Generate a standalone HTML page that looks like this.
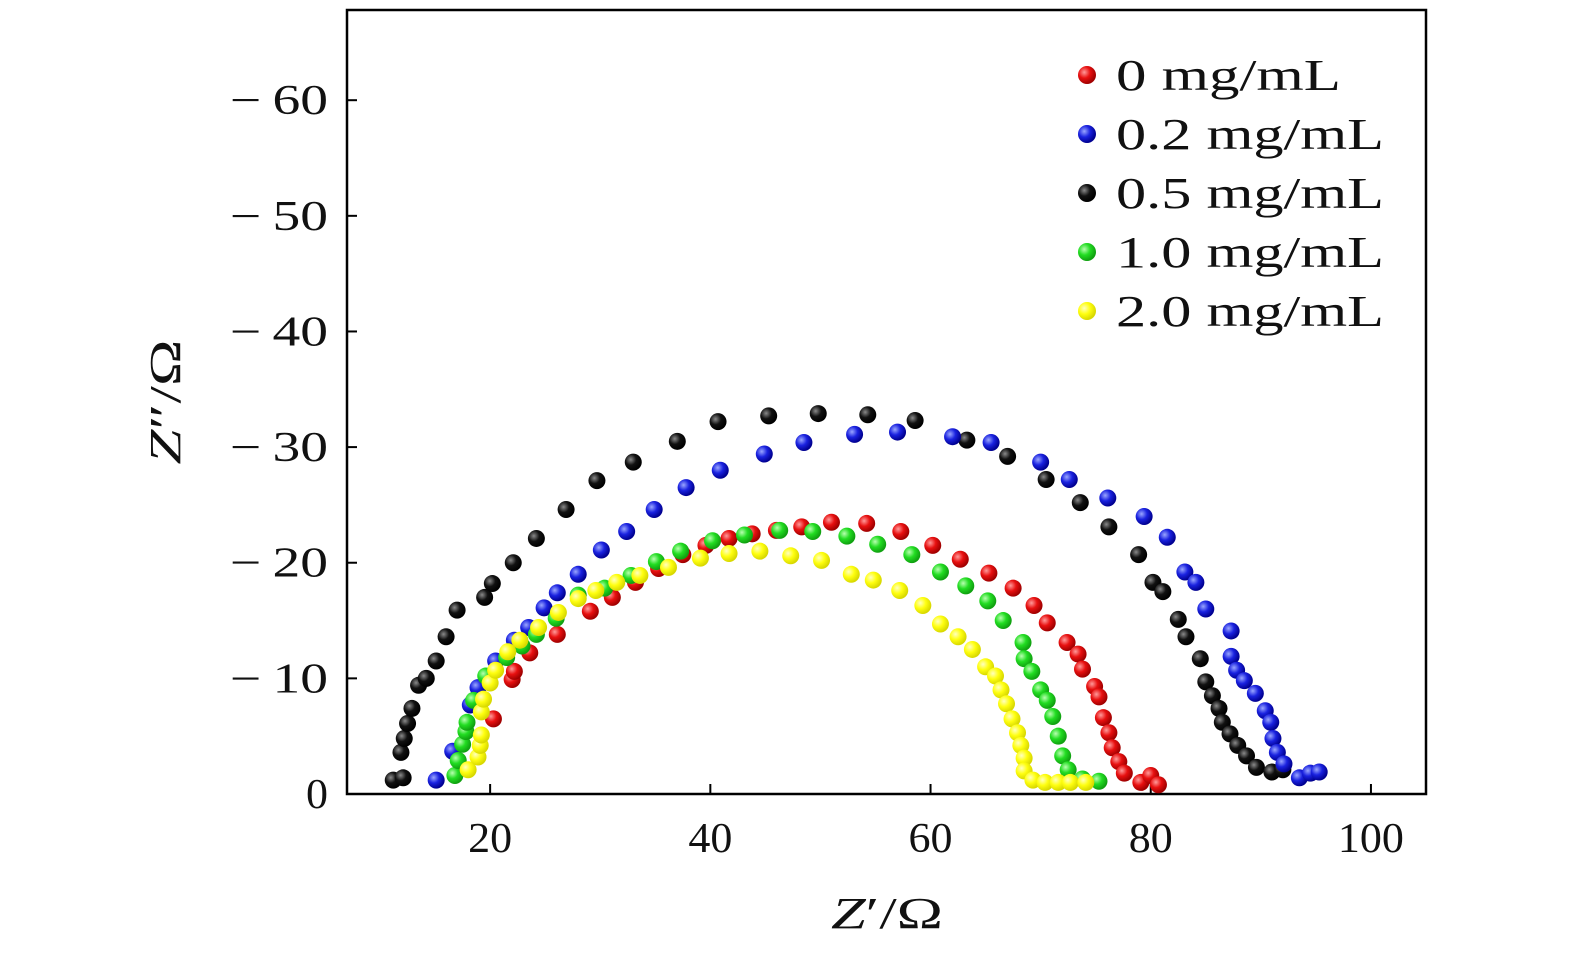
<!DOCTYPE html>
<html><head><meta charset="utf-8">
<style>
html,body{margin:0;padding:0;background:#fff;}
svg{display:block;}
text{font-family:"Liberation Serif","DejaVu Serif",serif;fill:#111;}
</style></head>
<body>
<svg id="chart" width="1575" height="955" viewBox="0 0 1575 955">
<defs>
<radialGradient id="g-red" cx="35%" cy="35%" r="65%"><stop offset="0" stop-color="#ff9a9a"/><stop offset="0.5" stop-color="#e81010"/><stop offset="1" stop-color="#a00000"/></radialGradient>
<radialGradient id="g-blue" cx="35%" cy="35%" r="65%"><stop offset="0" stop-color="#9aa6ff"/><stop offset="0.5" stop-color="#1a22e0"/><stop offset="1" stop-color="#000090"/></radialGradient>
<radialGradient id="g-black" cx="35%" cy="35%" r="65%"><stop offset="0" stop-color="#8a8a8a"/><stop offset="0.5" stop-color="#111"/><stop offset="1" stop-color="#000"/></radialGradient>
<radialGradient id="g-green" cx="35%" cy="35%" r="65%"><stop offset="0" stop-color="#b8ffb0"/><stop offset="0.5" stop-color="#22dd22"/><stop offset="1" stop-color="#10a010"/></radialGradient>
<radialGradient id="g-yellow" cx="35%" cy="35%" r="65%"><stop offset="0" stop-color="#ffffc0"/><stop offset="0.5" stop-color="#ffff10"/><stop offset="1" stop-color="#d8d800"/></radialGradient>
</defs>
<g id="plot"></g>
</svg>
<script>
const xTicks=[20,40,60,80,100];
const yTicks=[0,10,20,30,40,50,60];
const yTickLabels=["0","\u221210","\u221220","\u221230","\u221240","\u221250","\u221260"];
const seriesNames=["0 mg/mL","0.2 mg/mL","0.5 mg/mL","1.0 mg/mL","2.0 mg/mL"];
const redX=[20.3,22.0,22.2,23.6,26.1,29.1,31.1,33.2,35.3,37.5,39.6,41.7,43.8,46.0,48.3,51.0,54.2,57.3,60.2,62.7,65.3,67.5,69.4,70.6,72.4,73.4,73.8,74.9,75.3,75.7,76.2,76.5,77.1,77.6,79.1,80.0,80.7];
const redY=[6.5,9.9,10.6,12.2,13.8,15.8,17.0,18.3,19.5,20.7,21.5,22.1,22.5,22.8,23.1,23.5,23.4,22.7,21.5,20.3,19.1,17.8,16.3,14.8,13.1,12.1,10.8,9.3,8.4,6.6,5.3,4.0,2.8,1.8,1.0,1.6,0.8];
const blueX=[15.1,16.6,18.2,18.9,20.5,22.2,23.5,24.9,26.1,28.0,30.1,32.4,34.9,37.8,40.9,44.9,48.5,53.1,57.0,62.0,65.5,70.0,72.6,76.1,79.4,81.5,83.1,84.1,85.0,87.3,87.3,87.8,88.5,89.5,90.4,90.9,91.1,91.5,92.1,93.5,94.5,95.3];
const blueY=[1.2,3.7,7.7,9.2,11.5,13.3,14.4,16.1,17.4,19.0,21.1,22.7,24.6,26.5,28.0,29.4,30.4,31.1,31.3,30.9,30.4,28.7,27.2,25.6,24.0,22.2,19.2,18.3,16.0,14.1,11.9,10.7,9.8,8.7,7.2,6.2,4.8,3.6,2.6,1.4,1.8,1.9];
const blackX=[11.2,12.1,11.9,12.2,12.5,12.9,13.5,14.2,15.1,16.0,17.0,19.5,20.2,22.1,24.2,26.9,29.7,33.0,37.0,40.7,45.3,49.8,54.3,58.6,63.3,67.0,70.5,73.6,76.2,78.9,80.2,81.1,82.5,83.2,84.5,85.0,85.6,86.2,86.5,87.2,87.9,88.7,89.6,91.0,92.0];
const blackY=[1.2,1.4,3.6,4.8,6.1,7.4,9.4,10.0,11.5,13.6,15.9,17.0,18.2,20.0,22.1,24.6,27.1,28.7,30.5,32.2,32.7,32.9,32.8,32.3,30.6,29.2,27.2,25.2,23.1,20.7,18.3,17.5,15.1,13.6,11.7,9.7,8.5,7.4,6.2,5.2,4.2,3.3,2.3,1.9,2.1];
const greenX=[16.8,17.1,17.5,17.8,17.9,18.5,19.6,21.5,22.9,24.2,26.0,28.0,30.4,32.8,35.1,37.3,40.2,43.1,46.3,49.3,52.4,55.2,58.3,60.9,63.2,65.2,66.6,68.4,68.5,69.2,70.0,70.6,71.1,71.6,72.0,72.5,73.8,75.3];
const greenY=[1.6,2.9,4.3,5.4,6.2,8.1,10.2,11.8,12.8,13.8,15.2,17.2,17.8,18.9,20.1,21.0,21.9,22.4,22.8,22.7,22.3,21.6,20.7,19.2,18.0,16.7,15.0,13.1,11.7,10.6,9.0,8.1,6.7,5.0,3.3,2.1,1.3,1.1];
const yellowX=[18.0,18.9,19.1,19.2,19.2,19.4,20.0,20.5,21.6,22.7,24.4,26.2,28.0,29.6,31.5,33.6,36.2,39.1,41.7,44.5,47.3,50.1,52.8,54.8,57.2,59.3,60.9,62.5,63.8,65.0,65.9,66.4,66.9,67.4,67.9,68.2,68.5,68.5,69.3,70.4,71.6,72.7,74.1];
const yellowY=[2.1,3.2,4.2,5.1,7.1,8.2,9.6,10.7,12.3,13.3,14.4,15.7,16.9,17.6,18.3,18.9,19.6,20.4,20.8,21.0,20.6,20.2,19.0,18.5,17.6,16.3,14.7,13.6,12.5,11.0,10.2,9.0,7.8,6.5,5.3,4.2,3.1,2.0,1.2,1.0,1.0,1.0,1.0];

const NS="http://www.w3.org/2000/svg";
const L=347,R=1426,T=10,B=794;
const X0=7,X1=105,Y0=0,Y1=67.8;
function sx(v){return L+(v-X0)/(X1-X0)*(R-L);}
function sy(v){return B-(v-Y0)/(Y1-Y0)*(B-T);}
const g=document.getElementById('plot');
function mk(tag,attrs,parent){const e=document.createElementNS(NS,tag);for(const k in attrs)e.setAttribute(k,attrs[k]);(parent||g).appendChild(e);return e;}

const frame=mk('rect',{x:L,y:T,width:R-L,height:B-T,fill:'none',stroke:'#000','stroke-width':2.5});



xTicks.forEach(v=>{
  const t=mk('line',{x1:sx(v),x2:sx(v),y1:B,y2:B-10,stroke:'#000','stroke-width':2});
  
  
  const s=String(v);
  const lb=mk('text',{x:sx(v),y:B+58,'text-anchor':'middle','font-size':42,textLength:s.length*22,lengthAdjust:'spacingAndGlyphs'});
  lb.textContent=s;
  
  
});
yTicks.forEach((v,i)=>{
  const t=mk('line',{x1:L,x2:L+10,y1:sy(v),y2:sy(v),stroke:'#000','stroke-width':2});
  
  
  const s=yTickLabels[i];
  const w=s.length===1?22:98;
  const lb=mk('text',{x:328,y:sy(v)+14,'text-anchor':'end','font-size':42,textLength:w,lengthAdjust:'spacingAndGlyphs'});
  lb.textContent=s.replace('\u2212','\u2212\u2009');
  
  
});
const xt=mk('text',{x:887,y:928,'text-anchor':'middle','font-size':44,textLength:112,lengthAdjust:'spacingAndGlyphs'});
xt.innerHTML='<tspan font-style="italic">Z</tspan>′/Ω';


const yt=mk('text',{x:0,y:0,'text-anchor':'middle','font-size':44,textLength:125,lengthAdjust:'spacingAndGlyphs',transform:'translate(180,402) rotate(-90)'});
yt.innerHTML='<tspan font-style="italic">Z</tspan>″/Ω';



const series=[
 {xs:blackX,ys:blackY,f:'url(#g-black)',n:'series-0-5'},
 {xs:blueX,ys:blueY,f:'url(#g-blue)',n:'series-0-2'},
 {xs:redX,ys:redY,f:'url(#g-red)',n:'series-0'},
 {xs:greenX,ys:greenY,f:'url(#g-green)',n:'series-1-0'},
 {xs:yellowX,ys:yellowY,f:'url(#g-yellow)',n:'series-2-0'}];
series.forEach(s=>{
  const grp=mk('g',{});
  
  
  s.xs.forEach((x,i)=>{
    const c=mk('circle',{cx:sx(x),cy:sy(s.ys[i]),r:8.5,fill:s.f},grp);
    
    
  });
});

const legFills=['url(#g-red)','url(#g-blue)','url(#g-black)','url(#g-green)','url(#g-yellow)'];
const legY=[75,134,193,252,311];
const legW=[225,268,268,268,268];
seriesNames.forEach((nm,i)=>{
  const lg=mk('g',{});
  
  
  mk('circle',{cx:1087,cy:legY[i],r:9,fill:legFills[i]},lg);
  const tx=mk('text',{x:1116,y:legY[i]+15,'font-size':44,textLength:legW[i],lengthAdjust:'spacingAndGlyphs'},lg);
  tx.textContent=nm;
});
</script>
</body></html>
